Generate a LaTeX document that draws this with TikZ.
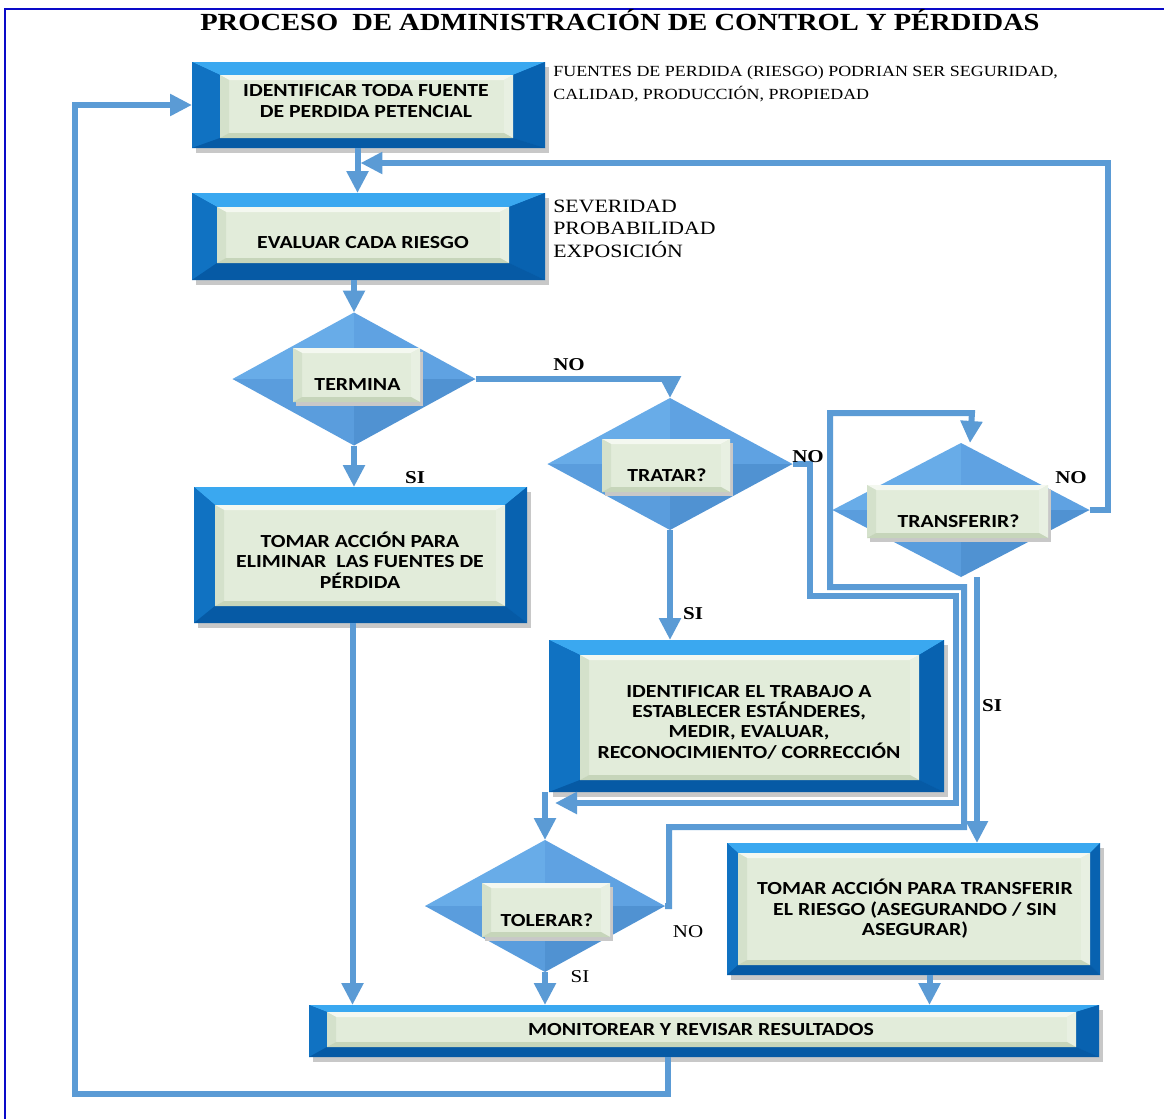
\documentclass[tikz,border=0pt]{standalone}
\usepackage{fontspec}
\setmainfont{Liberation Serif}[FakeStretch=1.16]
\newfontfamily\boxfont{Carlito}[FakeStretch=1.18]
\usetikzlibrary{arrows.meta,shapes.geometric,fit,calc}

\definecolor{conn}{RGB}{91,155,213}
\definecolor{frameblue}{RGB}{10,10,200}
\definecolor{obase}{RGB}{12,108,190}
\definecolor{otop}{RGB}{58,168,240}
\definecolor{oleft}{RGB}{16,114,194}
\definecolor{oright}{RGB}{8,98,176}
\definecolor{obot}{RGB}{6,90,165}
\definecolor{gmid}{RGB}{226,236,218}
\definecolor{gtop}{RGB}{244,248,240}
\definecolor{gleft}{RGB}{212,225,203}
\definecolor{gright}{RGB}{232,240,226}
\definecolor{gbot}{RGB}{198,213,186}
\definecolor{dnw}{RGB}{104,172,232}
\definecolor{dne}{RGB}{95,162,226}
\definecolor{dsw}{RGB}{90,157,221}
\definecolor{dse}{RGB}{80,146,210}
\definecolor{shadowc}{RGB}{200,200,200}

\tikzset{
  arr/.style={draw=conn, line width=0.12cm, -{Triangle[length=0.44cm,width=0.42cm]}},
  boxtext/.style={font=\boxfont\bfseries\fontsize{10.5}{11.6}\selectfont, align=center, inner sep=0pt, text=black},
  fitbox/.style={inner sep=0pt, outer sep=0pt},
  lblb/.style={font=\bfseries\fontsize{10.3}{12}\selectfont, anchor=base, inner sep=0pt},
  lbln/.style={font=\fontsize{10.3}{12}\selectfont, anchor=base, inner sep=0pt},
}

\newcommand{\greenbevel}[1]{%
  \coordinate (#1-p1) at ($(#1.north west)+(9,5)$);
  \coordinate (#1-p2) at ($(#1.north east)+(-9,5)$);
  \coordinate (#1-p3) at ($(#1.south east)+(-9,-5)$);
  \coordinate (#1-p4) at ($(#1.south west)+(9,-5)$);
  \fill[gtop] (#1.north west) -- (#1.north east) -- (#1-p2) -- (#1-p1) -- cycle;
  \fill[gleft] (#1.north west) -- (#1-p1) -- (#1-p4) -- (#1.south west) -- cycle;
  \fill[gright] (#1.north east) -- (#1.south east) -- (#1-p3) -- (#1-p2) -- cycle;
  \fill[gbot] (#1.south west) -- (#1-p4) -- (#1-p3) -- (#1.south east) -- cycle;
}

% name, outer a, outer b, inner a, inner b, text position, text
\newcommand{\bevbox}[7]{%
  \path #2 coordinate (#1-oa) #3 coordinate (#1-ob) #4 coordinate (#1-ia) #5 coordinate (#1-ib);
  \fill[shadowc] ($(#1-oa)+(4,5)$) rectangle ($(#1-ob)+(4,5)$);
  \node[fit=(#1-oa)(#1-ob), fitbox, fill=obase] (#1) {};
  \node[fit=(#1-ia)(#1-ib), fitbox, fill=gmid] (#1-in) {};
  \fill[otop] (#1.north west) -- (#1.north east) -- (#1-in.north east) -- (#1-in.north west) -- cycle;
  \fill[oleft] (#1.north west) -- (#1-in.north west) -- (#1-in.south west) -- (#1.south west) -- cycle;
  \fill[oright] (#1.north east) -- (#1.south east) -- (#1-in.south east) -- (#1-in.north east) -- cycle;
  \fill[obot] (#1.south west) -- (#1-in.south west) -- (#1-in.south east) -- (#1.south east) -- cycle;
  \greenbevel{#1-in}
  \node[boxtext] (#1-txt) at #6 {#7};
}

% name, center, width, height, inner a, inner b, text
\newcommand{\diabox}[7]{%
  \node[diamond, minimum width={#3*0.02cm}, minimum height={#4*0.02cm}, inner sep=0pt, outer sep=0pt] (#1) at #2 {};
  \fill[dnw] (#1.center) -- (#1.north) -- (#1.west) -- cycle;
  \fill[dne] (#1.center) -- (#1.north) -- (#1.east) -- cycle;
  \fill[dsw] (#1.center) -- (#1.south) -- (#1.west) -- cycle;
  \fill[dse] (#1.center) -- (#1.south) -- (#1.east) -- cycle;
  \path #5 coordinate (#1-ia) #6 coordinate (#1-ib);
  \fill[shadowc] ($(#1-ia)+(3,4)$) rectangle ($(#1-ib)+(3,4)$);
  \node[fit=(#1-ia)(#1-ib), fitbox, fill=gmid] (#1-in) {};
  \greenbevel{#1-in}
  \node[boxtext] (#1-txt) at ($(#1-in.center)+(1,10)$) {#7};
}

\begin{document}
\begin{tikzpicture}[x=0.02cm, y=-0.02cm]
\useasboundingbox (0,0) rectangle (1164,1119);
\fill[white] (0,0) rectangle (1164,1119);
\draw[frameblue, line width=0.05cm] (5,1119) -- (5,9) -- (1164,9);

\node[font=\bfseries\fontsize{14}{16}\selectfont, anchor=base, inner sep=0pt] (title) at (620,31)
  {PROCESO\ \ DE ADMINISTRACIÓN DE CONTROL Y PÉRDIDAS};

% boxes
\bevbox{ident}{(192,62)}{(545,148)}{(220,75)}{(513,138)}{(366,101)}{IDENTIFICAR TODA FUENTE\\DE PERDIDA PETENCIAL}
\bevbox{eval}{(192,193)}{(545,280)}{(217,207)}{(509,263)}{(363,243)}{EVALUAR CADA RIESGO}
\bevbox{tom1}{(194,487)}{(527,623)}{(215,505)}{(505,606)}{(360,560)}{TOMAR ACCIÓN PARA\\ELIMINAR\ \ LAS FUENTES DE\\PÉRDIDA}
\bevbox{box4}{(549,640)}{(944,792)}{(580,655)}{(919,780)}{(749,722)}{IDENTIFICAR EL TRABAJO A\\ESTABLECER ESTÁNDERES,\\MEDIR, EVALUAR,\\RECONOCIMIENTO/ CORRECCIÓN}
\bevbox{box5}{(727,843)}{(1100,975)}{(738,853)}{(1090,965)}{(915,909)}{TOMAR ACCIÓN PARA TRANSFERIR\\EL RIESGO (ASEGURANDO / SIN\\ASEGURAR)}
\bevbox{mon}{(309,1005)}{(1099,1057)}{(327,1012)}{(1076,1047)}{(701,1030)}{MONITOREAR Y REVISAR RESULTADOS}

% diamonds
\diabox{term}{(354,379)}{243}{133}{(293,348)}{(420,402)}{TERMINA}
\diabox{tratar}{(670,464)}{245}{132}{(602,439)}{(730,492)}{TRATAR?}
\diabox{transf}{(961,510)}{257}{134}{(867,485)}{(1048,538)}{TRANSFERIR?}
\diabox{tol}{(545,906)}{240}{132}{(482,883)}{(610,937)}{TOLERAR?}

% notes (anchor at the baseline of the last line)
\node[font=\fontsize{8.8}{12.6}\selectfont, anchor=base west, align=left, inner sep=0pt] (note1) at (553,99)
  {FUENTES DE PERDIDA (RIESGO) PODRIAN SER SEGURIDAD,\\CALIDAD, PRODUCCIÓN, PROPIEDAD};
\node[font=\fontsize{10.7}{12.8}\selectfont, anchor=base west, align=left, inner sep=0pt] (note2) at (553,257)
  {SEVERIDAD\\PROBABILIDAD\\EXPOSICIÓN};

% connectors
\coordinate (aS) at ($(ident.south)+(-11,0)$);
\draw[arr] (aS) -- (aS |- eval.north);
\draw[arr] (transf.east) -- ++(18,0) |- ($(ident.south)+(-8,15)$);
\draw[arr] (term.north |- eval.south) -- (term.north);
\draw[arr] (term.east) -| (tratar.north);
\draw[arr] (term.south) -- (term.south |- tom1.north);
\draw[arr] (tratar.south) -- (tratar.south |- box4.north);
\draw[arr] (tratar.east) -- ++(17,0) -- ++(0,132) -- ++(146,0) |- ($(box4.south west)+(6,11)$);
\draw[arr] (tol.north |- box4.south) -- (tol.north);
\draw[arr] (tol.east) -- ++(4,0) -- ++(0,-79) -- ++(295,0) -- ++(0,-240) -- ++(-134,0) -- ++(0,-174) -- ++(142,0) -- ($(transf.north)+(9,0)$);
\coordinate (hS) at ($(transf.south)+(16,0)$);
\draw[arr] (hS) -- (hS |- box5.north);
\coordinate (iS) at ($(tom1.south)+(-8,0)$);
\draw[arr] (iS) -- (iS |- mon.north);
\draw[arr] (tol.south) -- (tol.south |- mon.north);
\coordinate (kS) at ($(box5.south)+(16,0)$);
\draw[arr] (kS) -- (kS |- mon.north);
\coordinate (lS) at ($(mon.south)+(-36,0)$);
\draw[arr] (lS) -- ++(0,37) -| ($(ident.west)+(-117,0)$) -- (ident.west);

% labels
\node[lblb] (lno1) at (569,370) {NO};
\node[lblb] (lno2) at (808,462) {NO};
\node[lblb] (lno3) at (1071,483) {NO};
\node[lblb] (lsi1) at (415,483) {SI};
\node[lblb] (lsi2) at (693,619) {SI};
\node[lblb] (lsi3) at (992,711) {SI};
\node[lbln] (lno4) at (688,937) {NO};
\node[lbln] (lsi4) at (580,982) {SI};
\end{tikzpicture}
\end{document}
